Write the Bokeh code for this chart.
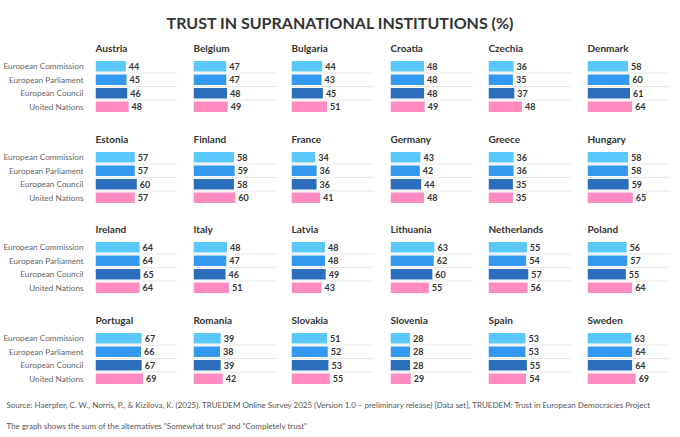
from bokeh.plotting import figure
from bokeh.models import FactorRange, Range1d, ColumnDataSource
from bokeh.layouts import column, row
from bokeh.core.properties import value
from bokeh.embed import file_html
from bokeh.resources import INLINE

title_text = "TRUST IN SUPRANATIONAL INSTITUTIONS (%)"
categories = ["European Commission", "European Parliament", "European Council", "United Nations"]
countries = ["Austria", "Belgium", "Bulgaria", "Croatia", "Czechia", "Denmark",
             "Estonia", "Finland", "France", "Germany", "Greece", "Hungary",
             "Ireland", "Italy", "Latvia", "Lithuania", "Netherlands", "Poland",
             "Portugal", "Romania", "Slovakia", "Slovenia", "Spain", "Sweden"]
commission = [44, 47, 44, 48, 36, 58, 57, 58, 34, 43, 36, 58,
              64, 48, 48, 63, 55, 56, 67, 39, 51, 28, 53, 63]
parliament = [45, 47, 43, 48, 35, 60, 57, 59, 36, 42, 36, 58,
              64, 47, 48, 62, 54, 57, 66, 38, 52, 28, 53, 64]
council = [46, 48, 45, 48, 37, 61, 60, 58, 36, 44, 35, 59,
           65, 46, 49, 60, 57, 55, 67, 39, 53, 28, 55, 64]
united_nations = [48, 49, 51, 49, 48, 64, 57, 60, 41, 48, 35, 65,
                  64, 51, 43, 55, 56, 64, 69, 42, 55, 29, 54, 69]
source_note = ("Source: Haerpfer, C. W., Norris, P., & Kizilova, K. (2025). TRUEDEM Online Survey 2025 "
               "(Version 1.0 \u2013 preliminary release) [Data set], TRUEDEM: Trust in European Democracies Project")
method_note = "The graph shows the sum of the alternatives \"Somewhat trust\" and \"Completely trust\""

colors = ["#5BC8FB", "#3399F0", "#2B6EBB", "#FF8BC0"]
FONT = "Lato"
TEXT_DARK = "#333333"

col_widths = [193, 98, 99, 98, 99, 91]
row_heights = [91, 90, 91, 90]
FRAME_W = 83
LEFT0 = 94
TOP = 25
FRAME_H = 54
TITLE_H = 34
W = sum(col_widths)

# Title figure
tf = figure(width=W, height=TITLE_H, x_range=Range1d(0, W), y_range=Range1d(TITLE_H, 0),
            output_backend="svg", toolbar_location=None, min_border=0)
tf.axis.visible = False
tf.grid.visible = False
tf.outline_line_color = None
tf.text(x=[340], y=[21.5], text=[title_text], text_align="center", text_baseline="middle",
        text_font=value(FONT), text_font_style="bold", text_font_size="16px", text_color=TEXT_DARK)

rows = []
for r in range(4):
    figs = []
    for c in range(6):
        i = r * 6 + c
        vals = [commission[i], parliament[i], council[i], united_nations[i]]
        src = ColumnDataSource(dict(cat=categories, val=vals, color=colors,
                                    label=[str(v) for v in vals]))
        w = col_widths[c]
        left = LEFT0 if c == 0 else 0
        right = w - left - FRAME_W
        h = row_heights[r]
        p = figure(width=w, height=h, x_range=Range1d(0, 119),
                   y_range=FactorRange(factors=categories[::-1], range_padding=0),
                   output_backend="svg", toolbar_location=None,
                   min_border_left=left, min_border_right=right,
                   min_border_top=TOP, min_border_bottom=h - TOP - FRAME_H)
        p.outline_line_color = None
        p.grid.visible = False
        p.xaxis.visible = False
        if c == 0:
            ax = p.yaxis[0]
            ax.axis_line_color = None
            ax.major_tick_line_color = None
            ax.minor_tick_line_color = None
            ax.major_label_standoff = 6
            ax.major_label_text_font = FONT
            ax.major_label_text_font_size = "8.2px"
            ax.major_label_text_color = "#666666"
        else:
            p.yaxis.visible = False
        p.title.text = countries[i]
        p.title.text_font = FONT
        p.title.text_font_style = "bold"
        p.title.text_font_size = "10px"
        p.title.text_color = TEXT_DARK
        p.title.align = "left"
        p.title.offset = 0
        p.title.standoff = 11
        seps = [(cat, -0.5) for cat in categories[:3]]
        p.segment(x0=[0] * 3, x1=[119] * 3, y0=seps, y1=seps, line_color="#E8E8E8", line_width=1)
        p.hbar(y="cat", left=0, right="val", height=0.78, fill_color="color",
               line_color=None, source=src)
        p.text(x="val", y="cat", text="label", source=src, x_offset=3,
               text_baseline="middle", text_align="left", text_font=value(FONT),
               text_font_style="bold", text_font_size="9px", text_color=TEXT_DARK)
        figs.append(p)
    rows.append(row(*figs))

FOOT_H = 39
ff = figure(width=W, height=FOOT_H, x_range=Range1d(0, W), y_range=Range1d(FOOT_H, 0),
            output_backend="svg", toolbar_location=None, min_border=0)
ff.axis.visible = False
ff.grid.visible = False
ff.outline_line_color = None
ff.text(x=[6, 6], y=[8.0, 29.5], text=[source_note, method_note], text_align="left",
        text_baseline="middle", text_font=value(FONT), text_font_size="8px",
        text_color="#555555")

layout = column(tf, *rows, ff)
open("out.html", "w").write(file_html(layout, INLINE))
